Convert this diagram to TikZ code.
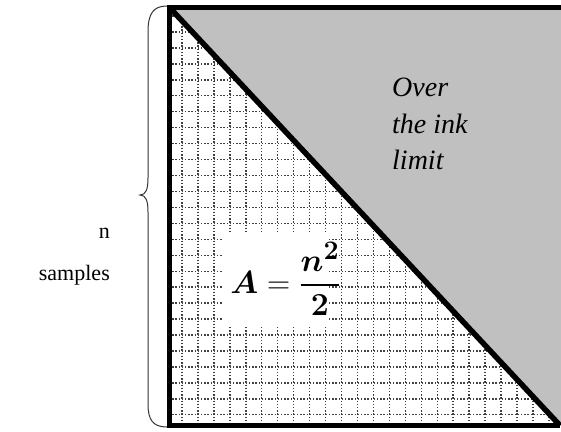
\documentclass[tikz,border=0pt]{standalone}
\usepackage{fontspec}
\setmainfont{Liberation Serif}
\usepackage{amsmath,bm}
\usetikzlibrary{positioning}
\definecolor{inkgrey}{HTML}{C0C0C0}
\definecolor{dotgrey}{HTML}{404040}
\definecolor{bracegrey}{HTML}{333333}
\tikzset{
  edge/.style={line width=5.5pt,line join=miter},
  gridline/.style={dotgrey,line width=1.4pt,dash pattern=on 1.4pt off 1.8pt},
  sidelabel/.style={anchor=base east,inner sep=0pt,font=\fontsize{22}{26}\selectfont},
}

\begin{document}
\begin{tikzpicture}[x=1pt,y=-1pt]
  \useasboundingbox (0,0) rectangle (561,431);
  \coordinate (tl) at (169.5,7.5);
  \coordinate (tr) at (561,7.5);
  \coordinate (bl) at (169.5,425.5);
  \coordinate (br) at (560,425.5);
  % lower triangle: dotted grid
  \begin{scope}
    \clip (tl) -- (br) -- (bl) -- cycle;
    \foreach \x in {0,...,23} \draw[gridline] ({182+15.95*\x},7) -- ++(0,420);
    \foreach \y in {0,...,25} \draw[gridline] (169,{16+15.95*\y}) -- ++(392,0);
  \end{scope}
  % upper triangle: over the limit
  \fill[inkgrey] (tl) -- (tr) -- (561,425.5) -- (br) -- cycle;
  \node[anchor=north west,align=left,inner sep=0pt,font=\itshape\fontsize{28}{36.5}\selectfont] (overink) at (392,78) {Over\\the ink\\limit};
  % area formula on a white patch
  \fill[white] (223,233) rectangle (327,327);
  \node[anchor=base west,inner sep=0pt,font=\Huge,scale=1.29] (area) at (230,293) {$\bm{A}=\dfrac{\bm{n}^{\bm{2}}}{\bm{2}}$};
  % frame and diagonal
  \draw[edge] (tr) -- (tl) -- (bl) -- (br);
  \draw[edge] (tl) -- (br);
  % brace with its label
  \draw[bracegrey,line width=1pt] (167,6) .. controls (153,6) and (148,14) .. (148,32) -- (148,178)
    .. controls (148,189) and (146,195) .. (140,195) .. controls (146,195) and (148,201) .. (148,212)
    -- (148,404) .. controls (148,420) and (153,427) .. (167,427);
  \node[sidelabel] (nlab) at (110,238) {n};
  \node[sidelabel] (samples) at (110,280) {samples};
\end{tikzpicture}
\end{document}
